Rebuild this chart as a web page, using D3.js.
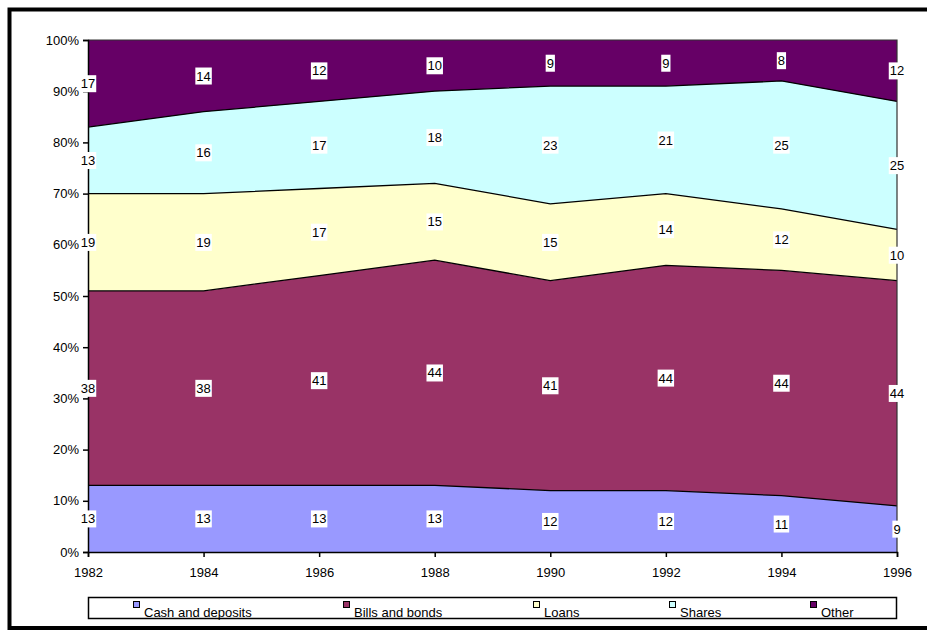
<!DOCTYPE html>
<html>
<head>
<meta charset="utf-8">
<script src="https://cdn.jsdelivr.net/npm/d3@7"></script>
<style>
  html, body { margin: 0; padding: 0; background: #fff; }
  svg { display: block; font-family: Arial, "Liberation Sans", sans-serif; }
</style>
</head>
<body>
<svg id="chart" width="927" height="630"></svg>
<script>
// Composition of financial assets, percent of total, 1982–1996
const years = [1982, 1984, 1986, 1988, 1990, 1992, 1994, 1996];
const cashAndDeposits = [13, 13, 13, 13, 12, 12, 11, 9];
const billsAndBonds   = [38, 38, 41, 44, 41, 44, 44, 44];
const loans           = [19, 19, 17, 15, 15, 14, 12, 10];
const shares          = [13, 16, 17, 18, 23, 21, 25, 25];
const other           = [17, 14, 12, 10, 9, 9, 8, 12];
const seriesNames  = ["Cash and deposits", "Bills and bonds", "Loans", "Shares", "Other"];
const seriesColors = ["#9999FF", "#993366", "#FFFFCC", "#CCFFFF", "#660066"];
const yTicks = [0, 10, 20, 30, 40, 50, 60, 70, 80, 90, 100];

const seriesValues = [cashAndDeposits, billsAndBonds, loans, shares, other];
const rows = years.map((yr, i) => {
  const r = { year: yr };
  seriesNames.forEach((n, k) => { r[n] = seriesValues[k][i]; });
  return r;
});

const FONT = "13px";
const svg = d3.select("#chart");

// outer frame
svg.append("rect")
  .attr("x", 9.5).attr("y", 9.5)
  .attr("width", 940).attr("height", 618.5)
  .attr("fill", "none").attr("stroke", "#000").attr("stroke-width", 4);

const x = d3.scaleLinear().domain([1982, 1996]).range([88, 897]);
const y = d3.scaleLinear().domain([0, 100]).range([552, 40]);

const stack = d3.stack().keys(seriesNames);
const layers = stack(rows);

const area = d3.area()
  .x(d => x(d.data.year))
  .y0(d => y(d[0]))
  .y1(d => y(d[1]));

const line = d3.line()
  .x(d => x(d.data.year))
  .y(d => y(d[1]));

const g = svg.append("g");
g.selectAll("path.area")
  .data(layers)
  .join("path")
  .attr("class", "area")
  .attr("d", area)
  .attr("fill", (d, i) => seriesColors[i]);

// boundaries between stacked bands
g.selectAll("path.edge")
  .data(layers.slice(0, layers.length - 1))
  .join("path")
  .attr("class", "edge")
  .attr("d", line)
  .attr("fill", "none")
  .attr("stroke", "#000")
  .attr("stroke-width", 1.3);

// plot area border on top and right
g.append("path")
  .attr("d", `M${x(1982)},${y(100)}H${x(1996)}V${y(0)}`)
  .attr("fill", "none").attr("stroke", "#333").attr("stroke-width", 1.2);

// axes
const yAxis = d3.axisLeft(y).tickValues(yTicks).tickSize(5).tickPadding(4)
  .tickFormat(d => d + "%");
const yg = svg.append("g").attr("transform", `translate(${x(1982)},0)`).call(yAxis);
const xAxis = d3.axisBottom(x).tickValues(years).tickSize(5).tickPadding(11)
  .tickFormat(d3.format("d"));
const xg = svg.append("g").attr("transform", `translate(0,${y(0)})`).call(xAxis);

[yg, xg].forEach(a => {
  a.selectAll(".domain").attr("stroke", "#000").attr("stroke-width", 1.5);
  a.selectAll(".tick line").attr("stroke", "#000").attr("stroke-width", 1.5);
  a.selectAll(".tick text").attr("fill", "#000")
    .style("font-size", FONT).style("font-family", "Arial, 'Liberation Sans', sans-serif");
});

// value labels at the middle of each band
const labelG = svg.append("g");
layers.forEach((layer, k) => {
  layer.forEach(d => {
    const val = d[1] - d[0];
    const cx = x(d.data.year);
    const cy = y((d[0] + d[1]) / 2);
    const lg = labelG.append("g").attr("transform", `translate(${cx},${cy})`);
    const t = lg.append("text")
      .attr("text-anchor", "middle")
      .attr("dy", "0.36em")
      .style("font-size", FONT)
      .attr("fill", "#000")
      .text(val);
    const bb = t.node().getBBox();
    lg.insert("rect", "text")
      .attr("x", bb.x - 1).attr("y", bb.y - 1)
      .attr("width", bb.width + 2).attr("height", bb.height + 2)
      .attr("fill", "#fff");
  });
});

// legend
const legend = svg.append("g");
legend.append("rect")
  .attr("x", 88.5).attr("y", 597.5)
  .attr("width", 808).attr("height", 21)
  .attr("fill", "#fff").attr("stroke", "#000").attr("stroke-width", 1.5);
const legendX = [133, 343, 533, 669, 810];
seriesNames.forEach((n, i) => {
  legend.append("rect")
    .attr("x", legendX[i] + 0.5).attr("y", 601.5)
    .attr("width", 6).attr("height", 6)
    .attr("fill", seriesColors[i]).attr("stroke", "#000").attr("stroke-width", 1);
  legend.append("text")
    .attr("x", legendX[i] + 11).attr("y", 617)
    .style("font-size", FONT).attr("fill", "#000")
    .text(n);
});
</script>
</body>
</html>
